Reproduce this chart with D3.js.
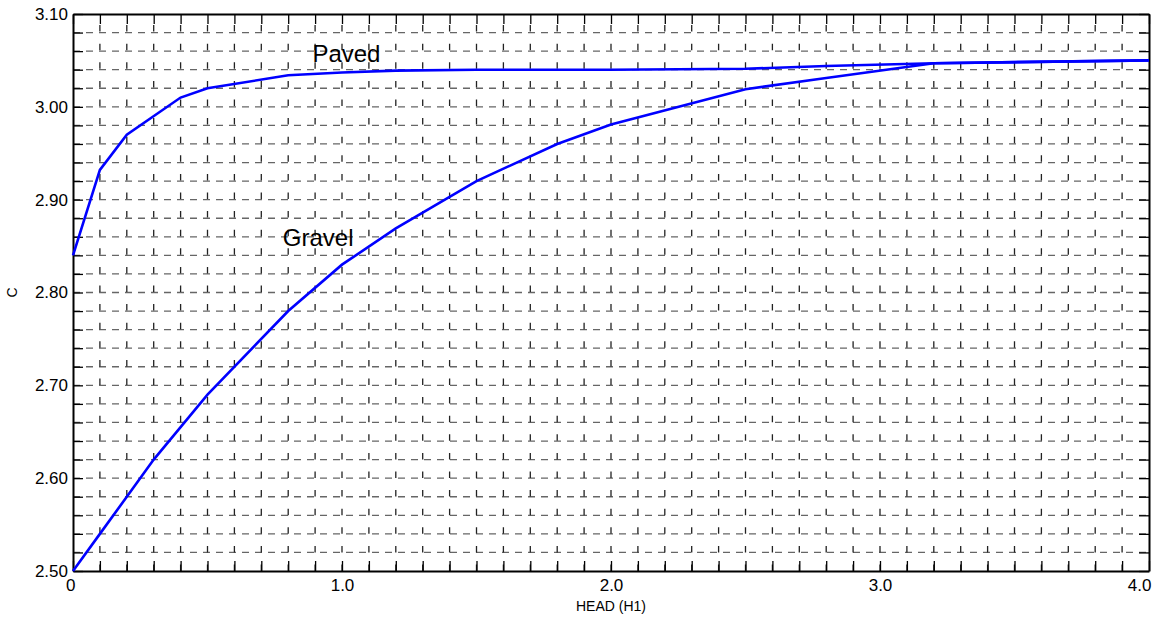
<!DOCTYPE html>
<html>
<head>
  <meta charset="utf-8" />
  <title>C vs head</title>
  <style>
    body { margin: 0; background: #fff; }
    text { font-family: Arial, "Liberation Sans", sans-serif; fill: #000; }
    .axis path, .axis line { stroke: #000; }
    .axis text { font-size: 17px; }
    .grid-h { stroke: #666; stroke-width: 1.3; stroke-dasharray: 7,6; }
    .grid-v { stroke: #222; stroke-width: 1.3; stroke-dasharray: 6.5,12.1; }
    .curve { fill: none; stroke: #0000ff; stroke-width: 2.6; }
  </style>
</head>
<body>
<div id="container"></div>
<script src="https://cdn.jsdelivr.net/npm/d3@7"></script>
<script>
// values
var paved_h  = [0, 0.1, 0.2, 0.4, 0.5, 0.8, 1.0, 1.2, 1.5, 2.0, 2.5, 2.8, 3.2, 4.0];
var paved_c  = [2.84, 2.932, 2.97, 3.01, 3.02, 3.034, 3.037, 3.039, 3.04, 3.04, 3.041, 3.044, 3.047, 3.05];
var gravel_h = [0, 0.1, 0.2, 0.3, 0.4, 0.5, 0.8, 1.0, 1.2, 1.5, 1.8, 2.0, 2.5, 2.8, 3.2, 4.0];
var gravel_c = [2.50, 2.54, 2.58, 2.62, 2.655, 2.69, 2.78, 2.83, 2.869, 2.92, 2.96, 2.981, 3.019, 3.031, 3.047, 3.05];

var x_labels = ["0", "1.0", "2.0", "3.0", "4.0"];
var y_labels = ["2.50", "2.60", "2.70", "2.80", "2.90", "3.00", "3.10"];

// curve names and where they are written (data units)
var curve_names = ["Paved", "Gravel"];
var name_h = [0.89, 0.78];
var name_c = [3.0487, 2.85];

var W = 1158, H = 621;
var pLeft = 73, pRight = 1149, pTop = 14, pBottom = 571;

var x = d3.scaleLinear().domain([0, 4]).range([pLeft, pRight]);
var y = d3.scaleLinear().domain([2.5, 3.1]).range([pBottom, pTop]);

var svg = d3.select("#container").append("svg")
  .attr("width", W)
  .attr("height", H);

var xMinor = d3.range(0, 41).map(function(i) { return i / 10; });
var yMinor = d3.range(0, 31).map(function(i) { return 2.5 + i * 0.02; });

// dashed grid
svg.append("g").selectAll("line")
  .data(yMinor.slice(1, -1))
  .enter().append("line")
  .attr("class", "grid-h")
  .attr("x1", pLeft).attr("x2", pRight)
  .attr("y1", function(d) { return y(d); })
  .attr("y2", function(d) { return y(d); });

svg.append("g").selectAll("line")
  .data(xMinor.slice(1, -1))
  .enter().append("line")
  .attr("class", "grid-v")
  .attr("x1", function(d) { return x(d); })
  .attr("x2", function(d) { return x(d); })
  .attr("y1", pBottom).attr("y2", pTop);

// axes, ticks pointing in
function xfmt(d) {
  var i = Math.round(d * 10);
  return i % 10 == 0 ? x_labels[i / 10] : "";
}
function yfmt(d) {
  var i = Math.round((d - 2.5) * 50);
  return i % 5 == 0 ? y_labels[i / 5] : "";
}

var gx = svg.append("g").attr("class", "axis")
  .attr("transform", "translate(0," + pBottom + ")")
  .call(d3.axisBottom(x).tickValues(xMinor).tickSize(-10).tickSizeOuter(0).tickPadding(5).tickFormat(xfmt));
gx.selectAll("text").attr("dy", "0.9em");
gx.selectAll(".tick").filter(function(d) { return d == 0; }).select("text")
  .attr("text-anchor", "end").attr("dx", "2px");
gx.selectAll(".tick").filter(function(d) { return d == 4; }).select("text")
  .attr("text-anchor", "end").attr("dx", "2px");

svg.append("g").attr("class", "axis")
  .attr("transform", "translate(" + pLeft + ",0)")
  .call(d3.axisLeft(y).tickValues(yMinor).tickSize(-10).tickSizeOuter(0).tickPadding(5).tickFormat(yfmt));

svg.append("g").attr("class", "axis")
  .attr("transform", "translate(0," + pTop + ")")
  .call(d3.axisTop(x).tickValues(xMinor).tickSize(-10).tickSizeOuter(0).tickFormat(""));

svg.append("g").attr("class", "axis")
  .attr("transform", "translate(" + pRight + ",0)")
  .call(d3.axisRight(y).tickValues(yMinor).tickSize(-10).tickSizeOuter(0).tickFormat(""));

svg.selectAll(".axis path").attr("stroke-width", 2);
svg.selectAll(".axis line").attr("stroke-width", 1.3);

// curves
var line = d3.line()
  .x(function(d) { return x(d[0]); })
  .y(function(d) { return y(d[1]); });

svg.append("path").attr("class", "curve")
  .attr("d", line(d3.zip(paved_h, paved_c)));
svg.append("path").attr("class", "curve")
  .attr("d", line(d3.zip(gravel_h, gravel_c)));

svg.selectAll(".cname")
  .data(curve_names)
  .enter().append("text")
  .attr("class", "cname")
  .attr("x", function(d, i) { return x(name_h[i]); })
  .attr("y", function(d, i) { return y(name_c[i]); })
  .style("font-size", "24px")
  .text(function(d) { return d; });

// axis titles
svg.append("text")
  .attr("x", (pLeft + pRight) / 2)
  .attr("y", 611)
  .attr("text-anchor", "middle")
  .style("font-size", "14px")
  .text("HEAD (H1)");

svg.append("text")
  .attr("transform", "translate(17," + (pTop + pBottom) / 2 + ") rotate(-90)")
  .attr("text-anchor", "middle")
  .style("font-size", "14px")
  .text("C");
</script>
</body>
</html>
